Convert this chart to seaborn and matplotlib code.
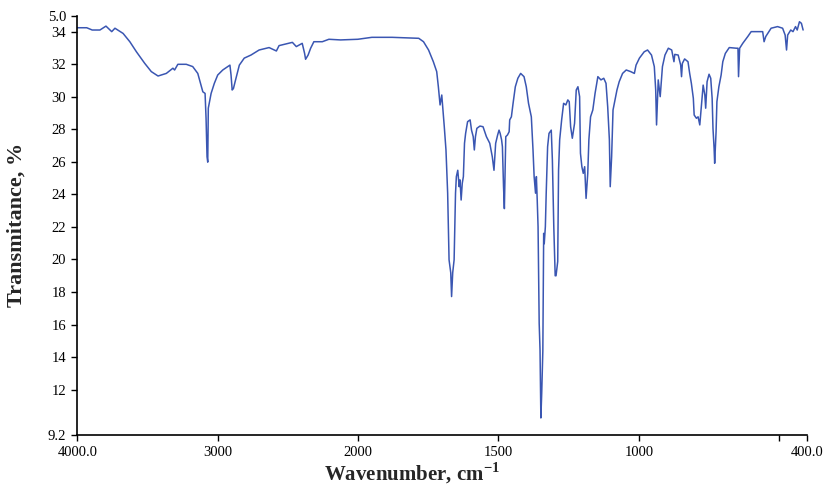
import numpy as np
import matplotlib
matplotlib.use("Agg")
import matplotlib.pyplot as plt
import seaborn as sns

# IR spectrum
wavenumber = [
    4000, 3933, 3894, 3839, 3796, 3755, 3732, 3674, 3626, 3579,
    3520, 3473, 3425, 3366, 3319, 3307, 3284, 3224, 3178, 3142,
    3106, 3090, 3083, 3076, 3071, 3067, 3047, 3024, 3000, 2964,
    2929, 2913, 2905, 2897, 2888, 2876, 2846, 2811, 2763, 2705,
    2634, 2582, 2563, 2468, 2440, 2398, 2381, 2374, 2356, 2338,
    2315, 2255, 2208, 2125, 2002, 1951, 1879, 1784, 1767, 1749,
    1732, 1720, 1714, 1708, 1702, 1693, 1687, 1681, 1676, 1670,
    1667, 1663, 1658, 1653, 1650, 1645, 1640, 1637, 1633, 1629,
    1625, 1621, 1617, 1610, 1601, 1596, 1590, 1586, 1582, 1577,
    1566, 1555, 1543, 1531, 1522, 1516, 1510, 1503, 1498, 1494,
    1489, 1486, 1482, 1479, 1474, 1468, 1462, 1460, 1454, 1448,
    1440, 1431, 1421, 1409, 1401, 1393, 1383, 1377, 1373, 1368,
    1365, 1362, 1359, 1355, 1352, 1350, 1349, 1346, 1342, 1339,
    1337, 1333, 1330, 1325, 1320, 1312, 1308, 1303, 1298, 1295,
    1289, 1286, 1282, 1275, 1268, 1260, 1253, 1248, 1243, 1237,
    1229, 1223, 1217, 1211, 1208, 1203, 1198, 1193, 1188, 1182,
    1178, 1172, 1164, 1156, 1146, 1135, 1125, 1117, 1111, 1105,
    1102, 1097, 1092, 1085, 1078, 1070, 1058, 1045, 1029, 1016,
    1010, 998, 981, 969, 955, 945, 940, 937, 931, 924,
    916, 907, 895, 883, 875, 872, 860, 851, 848, 845,
    837, 825, 819, 813, 806, 803, 795, 789, 783, 777,
    771, 765, 762, 757, 750, 744, 739, 736, 732, 730,
    725, 722, 715, 707, 701, 692, 678, 653, 647, 645,
    641, 630, 612, 600, 559, 554, 548, 529, 506, 488,
    479, 474, 470, 459, 451, 442, 436, 428, 421, 415,
]
transmittance = [
    34.26, 34.26, 34.12, 34.12, 34.36, 34.02, 34.23, 33.91, 33.40, 32.78,
    32.07, 31.56, 31.29, 31.45, 31.77, 31.66, 32.01, 32.01, 31.87, 31.45,
    30.32, 30.22, 28.69, 26.32, 25.99, 29.31, 30.22, 30.84, 31.35, 31.66,
    31.87, 31.96, 31.35, 30.43, 30.52, 30.94, 31.96, 32.39, 32.58, 32.89,
    33.04, 32.83, 33.16, 33.36, 33.10, 33.30, 32.68, 32.32, 32.58, 33.00,
    33.40, 33.40, 33.55, 33.51, 33.55, 33.67, 33.67, 33.61, 33.40, 32.89,
    32.17, 31.56, 30.61, 29.51, 30.12, 28.17, 26.74, 24.08, 19.98, 19.19,
    17.72, 19.19, 19.98, 24.08, 25.10, 25.49, 24.48, 24.90, 23.66, 24.69,
    25.10, 27.15, 27.76, 28.48, 28.59, 27.96, 27.56, 26.74, 27.56, 28.07,
    28.21, 28.17, 27.56, 27.15, 26.32, 25.49, 27.15, 27.66, 27.96, 27.76,
    27.37, 26.94, 24.48, 23.13, 27.56, 27.66, 27.86, 28.59, 28.78, 29.61,
    30.63, 31.15, 31.45, 31.25, 30.63, 29.61, 28.78, 26.74, 25.10, 24.08,
    25.10, 23.66, 22.02, 16.07, 14.43, 11.77, 10.25, 11.77, 14.37, 21.61,
    20.97, 22.02, 24.08, 26.94, 27.76, 27.96, 26.12, 22.02, 19.00, 19.00,
    19.88, 25.49, 27.37, 28.59, 29.61, 29.51, 29.82, 29.71, 28.17, 27.46,
    28.38, 30.43, 30.63, 30.02, 26.54, 25.71, 25.30, 25.71, 23.76, 25.30,
    27.37, 28.78, 29.20, 30.22, 31.25, 31.05, 31.15, 30.84, 29.40, 27.37,
    24.48, 26.32, 29.20, 29.82, 30.43, 30.94, 31.45, 31.66, 31.56, 31.45,
    31.96, 32.39, 32.78, 32.89, 32.58, 31.87, 30.43, 28.28, 31.05, 30.02,
    31.87, 32.58, 33.00, 32.89, 32.17, 32.62, 32.58, 31.96, 31.25, 32.07,
    32.34, 32.17, 31.45, 30.84, 29.92, 28.89, 28.69, 28.78, 28.28, 29.51,
    30.73, 30.12, 29.31, 30.94, 31.40, 31.15, 29.92, 28.07, 26.84, 25.92,
    27.86, 29.71, 30.63, 31.35, 32.17, 32.68, 33.04, 33.00, 33.00, 31.25,
    33.00, 33.30, 33.72, 34.02, 34.02, 33.40, 33.72, 34.23, 34.33, 34.23,
    33.81, 32.89, 33.81, 34.12, 34.02, 34.33, 34.12, 34.63, 34.53, 34.12,
]

x_ticks = [4000, 3000, 2000, 1500, 1000, 500, 400]
x_tick_labels = ["4000.0", "3000", "2000", "1500", "1000", "", "400.0"]
y_ticks = [9.2, 12, 14, 16, 18, 20, 22, 24, 26, 28, 30, 32, 34, 35]
y_tick_labels = ["9.2", "12", "14", "16", "18", "20", "22", "24", "26",
                 "28", "30", "32", "34", "5.0"]


# below 2000 cm-1 the axis is stretched 2x, like the instrument software
def x_fwd(w):
    w = np.asarray(w, dtype=float)
    return np.where(w >= 2000, w, 2000 - (2000 - w) * 2)


def x_inv(u):
    u = np.asarray(u, dtype=float)
    return np.where(u >= 2000, u, 2000 - (2000 - u) / 2)


sns.set_style("ticks")
plt.rcParams["font.family"] = ["Liberation Serif", "DejaVu Serif"]
plt.rcParams["mathtext.fontset"] = "custom"
plt.rcParams["mathtext.rm"] = "Liberation Serif"
plt.rcParams["mathtext.bf"] = "Liberation Serif:bold"

fig = plt.figure(figsize=(8.27, 4.91), dpi=100)
ax = fig.add_axes([0.0935, 0.114, 0.8827, 0.854])

sns.lineplot(x=wavenumber, y=transmittance, sort=False, estimator=None,
             color="#3A56B2", linewidth=1.1, ax=ax)

ax.set_xscale("function", functions=(x_fwd, x_inv))
ax.set_xlim(4000, 400)
ax.set_ylim(9.2, 35.0)

ax.set_xticks(x_ticks)
ax.set_xticklabels(x_tick_labels)
ax.set_yticks(y_ticks)
ax.set_yticklabels(y_tick_labels)
ax.minorticks_off()
ax.tick_params(axis="both", direction="out", length=4, width=1,
               colors="black", labelsize=10.5, pad=4)

ax.set_xlabel(r"Wavenumber, cm$^{\mathbf{-1}}$", fontsize=15, fontweight="bold")
ax.set_ylabel("Transmitance, %", fontsize=16, fontweight="bold")
ax.xaxis.set_label_coords(0.458, -0.062)
ax.yaxis.set_label_coords(-0.069, 0.5)

sns.despine(ax=ax)
for side in ["left", "bottom"]:
    ax.spines[side].set_color("black")
    ax.spines[side].set_linewidth(1.2)

fig.savefig("out.png", dpi=100)
